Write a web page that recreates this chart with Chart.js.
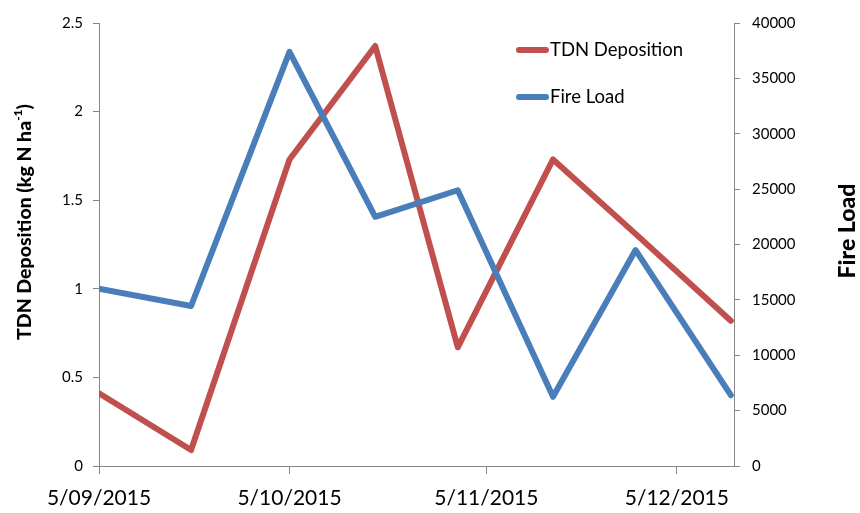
<!DOCTYPE html>
<html>
<head>
<meta charset="utf-8">
<title>TDN Deposition and Fire Load</title>
<script src="https://cdn.jsdelivr.net/npm/chart.js@4.4.1/dist/chart.umd.min.js"></script>
<style>
    html, body { margin: 0; padding: 0; background: #ffffff; }
    #wrap { width: 860px; height: 513px; }
</style>
</head>
<body>
<div id="wrap"><canvas id="depositionChart" width="860" height="513"></canvas></div>
<script>
// Sampling dates, as days after 5/09/2015
const sampleDays = [0, 14.5, 30, 43.5, 56.5, 71.5, 84.5, 99.5];
// TDN deposition (kg N ha-1), left axis
const tdnDeposition = [0.41, 0.09, 1.73, 2.37, 0.67, 1.73, 1.31, 0.82];
// Fire load, right axis
const fireLoad = [16000, 14450, 37400, 22500, 24900, 6250, 19500, 6400];

// Date axis tick labels and their day offsets
const dateTickDays = [0, 30, 61, 91];
const dateTickLabels = ['5/09/2015', '5/10/2015', '5/11/2015', '5/12/2015'];

const AXIS_GREY = '#868686';
const FONT = 'Lato, "Open Sans", sans-serif';

/**
 * Build {x, y} points from the day and value arrays
 */
function toPoints(days, values) {
    return days.map((d, i) => ({ x: d, y: values[i] }));
}

/**
 * Axis titles: both read bottom-to-top, left one has a superscript
 */
const axisTitles = {
    id: 'axisTitles',
    afterDraw(chart) {
        const ctx = chart.ctx;
        ctx.save();
        ctx.fillStyle = '#000';
        ctx.textBaseline = 'middle';

        // left title
        const main = 'TDN Deposition (kg N ha';
        const sup = '-1';
        const close = ')';
        const bold = '900 19.5px ' + FONT;
        const small = '900 12px ' + FONT;
        ctx.font = bold;
        const w1 = ctx.measureText(main).width;
        const w3 = ctx.measureText(close).width;
        ctx.font = small;
        const w2 = ctx.measureText(sup).width;
        const total = w1 + w2 + w3;
        ctx.translate(25, 222);
        ctx.rotate(-Math.PI / 2);
        ctx.textAlign = 'left';
        let x = -total / 2;
        ctx.font = bold;
        ctx.fillText(main, x, 0);
        x += w1;
        ctx.font = small;
        ctx.fillText(sup, x, -7);
        x += w2;
        ctx.font = bold;
        ctx.fillText(close, x, 0);
        ctx.restore();

        // right title
        ctx.save();
        ctx.fillStyle = '#000';
        ctx.textBaseline = 'middle';
        ctx.textAlign = 'center';
        ctx.font = '900 23px ' + FONT;
        ctx.translate(848, 231);
        ctx.rotate(-Math.PI / 2);
        ctx.fillText('Fire Load', 0, 0);
        ctx.restore();
    }
};

/**
 * Legend drawn inside the plot, top right
 */
const insideLegend = {
    id: 'insideLegend',
    afterDraw(chart) {
        const ctx = chart.ctx;
        const rows = [
            { ds: chart.data.datasets[0], y: 50 },
            { ds: chart.data.datasets[1], y: 97 }
        ];
        ctx.save();
        rows.forEach(row => {
            ctx.strokeStyle = row.ds.borderColor;
            ctx.lineWidth = 6;
            ctx.lineCap = 'round';
            ctx.beginPath();
            ctx.moveTo(519, row.y);
            ctx.lineTo(546, row.y);
            ctx.stroke();
            ctx.fillStyle = '#000';
            ctx.font = '18.5px ' + FONT;
            ctx.textAlign = 'left';
            ctx.textBaseline = 'middle';
            ctx.fillText(row.ds.label, 550, row.y);
        });
        ctx.restore();
    }
};

const canvas = document.getElementById('depositionChart');

new Chart(canvas, {
    type: 'line',
    data: {
        datasets: [
            {
                label: 'TDN Deposition',
                data: toPoints(sampleDays, tdnDeposition),
                yAxisID: 'y',
                borderColor: '#C0504D',
                backgroundColor: '#C0504D',
                borderWidth: 6,
                borderJoinStyle: 'round',
                borderCapStyle: 'round',
                pointRadius: 0,
                tension: 0,
                order: 2
            },
            {
                label: 'Fire Load',
                data: toPoints(sampleDays, fireLoad),
                yAxisID: 'y2',
                borderColor: '#4A7EBB',
                backgroundColor: '#4A7EBB',
                borderWidth: 6,
                borderJoinStyle: 'round',
                borderCapStyle: 'round',
                pointRadius: 0,
                tension: 0,
                order: 1
            }
        ]
    },
    options: {
        responsive: false,
        animation: false,
        layout: { padding: { top: 23, right: 0, bottom: 0, left: 0 } },
        plugins: {
            legend: { display: false },
            tooltip: { enabled: false }
        },
        scales: {
            x: {
                type: 'linear',
                min: 0,
                max: 100,
                afterBuildTicks: scale => {
                    scale.ticks = dateTickDays.map(v => ({ value: v }));
                },
                afterFit: scale => { scale.height = 47; },
                ticks: {
                    autoSkip: false,
                    maxRotation: 0,
                    padding: 12,
                    color: '#000',
                    font: { family: FONT, size: 21 },
                    callback: value => dateTickLabels[dateTickDays.indexOf(value)]
                },
                grid: {
                    drawOnChartArea: false,
                    color: AXIS_GREY,
                    tickLength: 8,
                    lineWidth: 1
                },
                border: { display: true, color: AXIS_GREY, width: 1 }
            },
            y: {
                position: 'left',
                min: 0,
                max: 2.5,
                afterFit: scale => { scale.width = 99; },
                ticks: {
                    stepSize: 0.5,
                    padding: 10,
                    color: '#000',
                    font: { family: FONT, size: 15 },
                    callback: value => String(Math.round(value * 10) / 10)
                },
                grid: {
                    drawOnChartArea: false,
                    color: AXIS_GREY,
                    tickLength: 6
                },
                border: { display: true, color: AXIS_GREY, width: 1 }
            },
            y2: {
                position: 'right',
                min: 0,
                max: 40000,
                afterFit: scale => { scale.width = 126; },
                ticks: {
                    stepSize: 5000,
                    padding: 12,
                    color: '#000',
                    font: { family: FONT, size: 15 },
                    callback: value => String(value)
                },
                grid: {
                    drawOnChartArea: false,
                    color: AXIS_GREY,
                    tickLength: 6
                },
                border: { display: true, color: AXIS_GREY, width: 1 }
            }
        }
    },
    plugins: [axisTitles, insideLegend]
});
</script>
</body>
</html>
